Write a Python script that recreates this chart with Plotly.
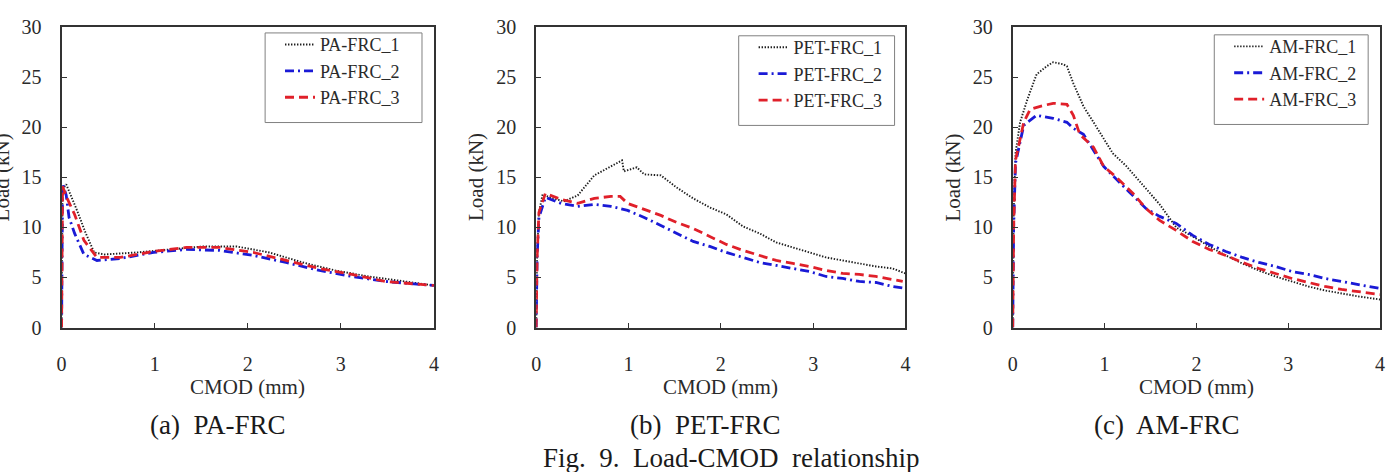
import plotly.graph_objects as go

# ---------------- data ----------------
# (a) PA-FRC
pa1_x = [0, 0.005, 0.01, 0.05, 0.10, 0.17, 0.26, 0.35, 0.46, 0.81, 1.17, 1.52, 1.88, 2.23, 2.59, 2.94, 3.30, 3.66, 4.00]
pa1_y = [0, 8.0, 13.8, 14.3, 13.2, 11.6, 9.4, 7.5, 7.3, 7.5, 7.8, 8.1, 8.1, 7.5, 6.5, 5.7, 5.1, 4.6, 4.2]
pa2_x = [0, 0.004, 0.01, 0.05, 0.08, 0.14, 0.24, 0.38, 0.63, 0.99, 1.34, 1.70, 2.06, 2.41, 2.77, 3.12, 3.48, 4.00]
pa2_y = [0, 8.0, 14.4, 13.2, 11.0, 9.4, 7.3, 6.7, 6.9, 7.5, 7.8, 7.7, 7.2, 6.5, 5.7, 5.1, 4.6, 4.2]
pa3_x = [0, 0.005, 0.01, 0.06, 0.14, 0.24, 0.38, 0.63, 0.99, 1.34, 1.70, 2.06, 2.41, 2.77, 3.12, 3.48, 4.00]
pa3_y = [0, 8.0, 14.1, 12.9, 11.3, 8.7, 7.0, 7.0, 7.6, 8.0, 8.0, 7.5, 6.7, 5.9, 5.3, 4.6, 4.2]

# (b) PET-FRC
pet1_x = [0, 0.01, 0.03, 0.07, 0.15, 0.30, 0.45, 0.63, 0.81, 0.93, 0.95, 1.09, 1.17, 1.35, 1.52, 1.70, 1.88, 2.06, 2.24, 2.42, 2.60, 2.78, 2.96, 3.14, 3.32, 3.50, 3.68, 3.86, 4.00]
pet1_y = [0, 7.0, 11.5, 13.3, 13.0, 12.6, 13.2, 15.2, 16.1, 16.7, 15.6, 16.0, 15.3, 15.2, 14.0, 12.9, 12.0, 11.3, 10.1, 9.4, 8.5, 8.0, 7.5, 7.0, 6.7, 6.4, 6.1, 5.9, 5.4]
pet2_x = [0, 0.01, 0.03, 0.10, 0.27, 0.45, 0.63, 0.81, 0.99, 1.17, 1.35, 1.52, 1.70, 1.88, 2.06, 2.24, 2.42, 2.60, 2.78, 2.96, 3.14, 3.32, 3.50, 3.68, 3.86, 4.00]
pet2_y = [0, 7.0, 11.0, 13.0, 12.4, 12.1, 12.3, 12.1, 11.7, 11.0, 10.2, 9.4, 8.6, 8.1, 7.5, 7.0, 6.5, 6.2, 5.9, 5.6, 5.1, 4.9, 4.6, 4.5, 4.1, 3.9]
pet3_x = [0, 0.01, 0.03, 0.10, 0.27, 0.45, 0.63, 0.81, 0.91, 0.99, 1.17, 1.35, 1.52, 1.70, 1.88, 2.06, 2.24, 2.42, 2.60, 2.78, 2.96, 3.14, 3.32, 3.50, 3.68, 3.86, 3.97]
pet3_y = [0, 7.0, 11.5, 13.4, 12.8, 12.4, 12.9, 13.1, 13.1, 12.4, 11.8, 11.2, 10.5, 9.9, 9.1, 8.3, 7.7, 7.2, 6.7, 6.4, 6.1, 5.7, 5.4, 5.3, 5.1, 4.8, 4.6]

# (c) AM-FRC
am1_x = [0, 0.01, 0.03, 0.08, 0.16, 0.26, 0.37, 0.44, 0.55, 0.59, 0.66, 0.77, 0.88, 0.99, 1.09, 1.24, 1.42, 1.60, 1.78, 1.96, 2.14, 2.32, 2.50, 2.68, 2.86, 3.04, 3.22, 3.40, 3.58, 3.77, 4.00]
am1_y = [0, 11.0, 17.4, 20.5, 22.8, 25.3, 26.1, 26.5, 26.3, 26.1, 24.4, 22.1, 20.5, 18.9, 17.4, 16.1, 14.2, 12.3, 10.0, 9.1, 8.1, 7.2, 6.4, 5.7, 5.1, 4.6, 4.1, 3.7, 3.4, 3.1, 2.8]
am2_x = [0, 0.01, 0.03, 0.12, 0.26, 0.44, 0.59, 0.66, 0.77, 0.88, 0.99, 1.13, 1.31, 1.45, 1.60, 1.78, 1.96, 2.14, 2.32, 2.50, 2.68, 2.86, 3.04, 3.22, 3.40, 3.58, 3.77, 4.00]
am2_y = [0, 10.0, 16.4, 20.2, 21.2, 20.9, 20.5, 19.9, 19.3, 17.7, 16.1, 14.8, 13.2, 11.9, 11.1, 10.4, 9.2, 8.3, 7.6, 7.0, 6.5, 6.1, 5.6, 5.3, 4.9, 4.6, 4.3, 3.9]
am3_x = [0, 0.01, 0.03, 0.12, 0.19, 0.30, 0.44, 0.59, 0.66, 0.73, 0.88, 0.99, 1.13, 1.31, 1.45, 1.60, 1.78, 1.96, 2.14, 2.32, 2.50, 2.68, 2.86, 3.04, 3.22, 3.40, 3.58, 3.77, 4.00]
am3_y = [0, 10.0, 16.7, 20.5, 21.8, 22.1, 22.4, 22.3, 21.2, 19.3, 18.0, 16.1, 15.0, 13.4, 11.9, 10.7, 9.7, 8.6, 7.8, 7.2, 6.5, 5.9, 5.4, 4.9, 4.5, 4.1, 3.8, 3.6, 3.3]

names_a = ["PA-FRC_1", "PA-FRC_2", "PA-FRC_3"]
names_b = ["PET-FRC_1", "PET-FRC_2", "PET-FRC_3"]
names_c = ["AM-FRC_1", "AM-FRC_2", "AM-FRC_3"]
captions = ["(a)  PA-FRC", "(b)  PET-FRC", "(c)  AM-FRC"]
fig_caption = "Fig.  9.  Load-CMOD  relationship"
x_ticks = [0, 1, 2, 3, 4]
y_ticks = [0, 5, 10, 15, 20, 25, 30]

# ---------------- layout helpers ----------------
W, H = 1395, 472
SERIF = "Liberation Serif, Times New Roman, serif"
TXT = "#2a2a2a"

def px_x(p):
    return p / W

def px_y(p):
    return (H - p) / H

panels = [
    dict(x0=57, x1=432, ax="", legend="legend", box=(262, 420, 23, 117)),
    dict(x0=535, x1=907, ax="2", legend="legend2", box=(739, 896, 26, 120)),
    dict(x0=1015, x1=1385, ax="3", legend="legend3", box=(1218, 1373, 25, 119)),
]
y_top, y_bot = 17, 332

styles = [
    dict(color="#1e1e1e", width=1.9, dash="1.4px,1.6px"),
    dict(color="#1a1ad6", width=2.8, dash="9px,4px,2px,4px"),
    dict(color="#e0202a", width=2.8, dash="9px,5px"),
]

series = [
    [(pa1_x, pa1_y), (pa2_x, pa2_y), (pa3_x, pa3_y)],
    [(pet1_x, pet1_y), (pet2_x, pet2_y), (pet3_x, pet3_y)],
    [(am1_x, am1_y), (am2_x, am2_y), (am3_x, am3_y)],
]
names = [names_a, names_b, names_c]

fig = go.Figure()
for pi, p in enumerate(panels):
    for si, (xs, ys) in enumerate(series[pi]):
        fig.add_trace(go.Scatter(
            x=xs, y=ys, mode="lines", name=names[pi][si],
            line=styles[si],
            xaxis="x" + p["ax"], yaxis="y" + p["ax"],
            legend=p["legend"],
        ))

layout = dict(
    width=W, height=H,
    margin=dict(l=0, r=0, t=0, b=0),
    paper_bgcolor="white", plot_bgcolor="white",
    font=dict(family=SERIF, size=20, color=TXT),
    showlegend=True,
)
axis_common = dict(
    showline=True, linecolor="#333333", linewidth=2, mirror=True,
    ticks="inside", ticklen=5, tickwidth=1, tickcolor="#333333",
    showgrid=False, zeroline=False,
    tickfont=dict(family=SERIF, size=20, color=TXT),
)
annotations = []
shapes = []
for pi, p in enumerate(panels):
    xa = "xaxis" + p["ax"]
    ya = "yaxis" + p["ax"]
    layout[xa] = dict(
        axis_common, domain=[px_x(p["x0"]), px_x(p["x1"])],
        range=[0, 4], tickvals=x_ticks, ticktext=[str(v) for v in x_ticks],
        anchor="y" + p["ax"], ticklabelstandoff=17,
    )
    layout[ya] = dict(
        axis_common, domain=[px_y(y_bot), px_y(y_top)],
        range=[0, 30], tickvals=y_ticks, ticktext=[str(v) for v in y_ticks],
        anchor="x" + p["ax"], ticklabelstandoff=14,
    )
    bx0, bx1, by0, by1 = p["box"]
    shapes.append(dict(
        type="rect", xref="paper", yref="paper",
        x0=px_x(bx0), x1=px_x(bx1), y0=px_y(by1), y1=px_y(by0),
        line=dict(color="#808080", width=1), fillcolor="white", layer="above",
    ))
    layout[p["legend"]] = dict(
        x=px_x(bx0 + 15), xanchor="left", y=px_y(by0 - 7), yanchor="top",
        bgcolor="rgba(0,0,0,0)", borderwidth=0,
        font=dict(family=SERIF, size=18, color=TXT),
        itemwidth=30, tracegroupgap=0,
    )
    cx = (p["x0"] + p["x1"]) / 2
    annotations.append(dict(
        text="CMOD (mm)", x=px_x(cx), y=px_y(394), xref="paper", yref="paper",
        xanchor="center", yanchor="middle", showarrow=False,
        font=dict(family=SERIF, size=21, color=TXT),
    ))
    annotations.append(dict(
        text="Load (kN)", x=px_x(p["x0"] - 60), y=px_y((y_top + y_bot) / 2),
        xref="paper", yref="paper", xanchor="center", yanchor="middle",
        textangle=-90, showarrow=False,
        font=dict(family=SERIF, size=21, color=TXT),
    ))

cap_x = [215, 706, 1170]
for cx, cap in zip(cap_x, captions):
    annotations.append(dict(
        text=cap, x=px_x(cx), y=px_y(434), xref="paper", yref="paper",
        xanchor="center", yanchor="middle", showarrow=False,
        font=dict(family=SERIF, size=27, color="#1a1a1a"),
    ))
annotations.append(dict(
    text=fig_caption, x=px_x(731), y=px_y(469), xref="paper", yref="paper",
    xanchor="center", yanchor="middle", showarrow=False,
    font=dict(family=SERIF, size=27, color="#1a1a1a"),
))
layout["annotations"] = annotations
layout["shapes"] = shapes
fig.update_layout(**layout)

fig.write_html("out.html")
